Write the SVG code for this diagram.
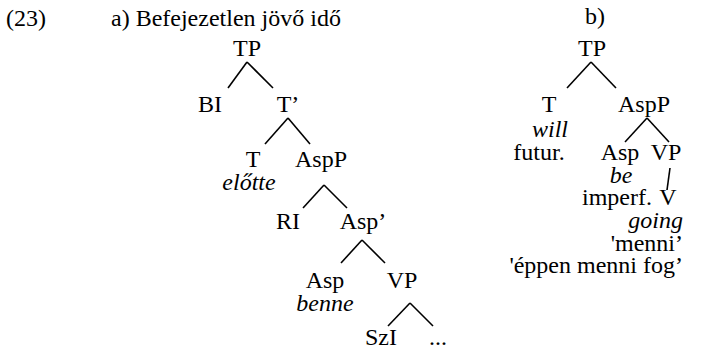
<svg xmlns="http://www.w3.org/2000/svg" width="726" height="351" viewBox="0 0 726 351" font-family="'Liberation Serif', 'Times New Roman', serif" font-size="24">
<style>
text{font-family:'Liberation Serif','Times New Roman',serif;font-size:24px;fill:#000}
.m{text-anchor:middle}
.e{text-anchor:end}
.i{font-style:italic}
.c line{stroke:#000;stroke-width:1.6;stroke-linecap:butt}
</style>
<rect width="726" height="351" fill="#fff"/>
<g id="label">
<text x="6" y="26">(23)</text>
<text x="111" y="26">a) Befejezetlen jövő idő</text>
<text class="m" x="595" y="24">b)</text>
</g>
<g id="a-TP"><text class="m" x="247" y="56">TP</text></g>
<g id="a-BI"><text class="m" x="210" y="112">BI</text></g>
<g id="a-T1"><text class="m" x="288" y="112">T’</text></g>
<g id="a-T"><text class="m" x="253" y="167">T</text><text class="m i" x="249" y="190">előtte</text></g>
<g id="a-AspP"><text class="m" x="321" y="167">AspP</text></g>
<g id="a-RI"><text class="m" x="288" y="229">RI</text></g>
<g id="a-Asp1"><text class="m" x="363" y="229">Asp’</text></g>
<g id="a-Asp"><text class="m" x="325" y="288">Asp</text><text class="m i" x="325" y="311">benne</text></g>
<g id="a-VP"><text class="m" x="402" y="288">VP</text></g>
<g id="a-SzI"><text class="m" x="381" y="345">SzI</text></g>
<g id="a-dots"><text class="m" x="438" y="345">...</text></g>
<g id="b-TP"><text class="m" x="592" y="56">TP</text></g>
<g id="b-T"><text class="m" x="549" y="112">T</text><text class="m i" x="550" y="137">will</text><text class="m" x="539" y="160">futur.</text></g>
<g id="b-AspP"><text class="m" x="644" y="112">AspP</text></g>
<g id="b-Asp"><text class="m" x="620" y="160">Asp</text><text class="m i" x="621" y="183">be</text><text x="582" y="205">imperf.</text></g>
<g id="b-VP"><text class="m" x="666" y="160">VP</text></g>
<g id="b-V"><text class="m" x="668" y="205">V</text><text class="e i" x="683" y="228">going</text><text class="e" x="683" y="251">'menni’</text><text class="e" x="683" y="273">'éppen menni fog’</text></g>
<g id="connectors" class="c">
<line x1="247" y1="62" x2="228" y2="88"/><line x1="247" y1="62" x2="273" y2="88"/>
<line x1="288" y1="118" x2="265" y2="144"/><line x1="288" y1="118" x2="310" y2="144"/>
<line x1="324" y1="185" x2="303" y2="208"/><line x1="324" y1="185" x2="347" y2="208"/>
<line x1="362" y1="240" x2="341" y2="263"/><line x1="362" y1="240" x2="385" y2="263"/>
<line x1="410" y1="303" x2="388" y2="326"/><line x1="410" y1="303" x2="433" y2="326"/>
<line x1="591" y1="62" x2="567" y2="88"/><line x1="591" y1="62" x2="616" y2="88"/>
<line x1="647" y1="118" x2="625" y2="142"/><line x1="647" y1="118" x2="669" y2="142"/>
<line x1="670" y1="168" x2="667" y2="190"/>
</g>
</svg>
